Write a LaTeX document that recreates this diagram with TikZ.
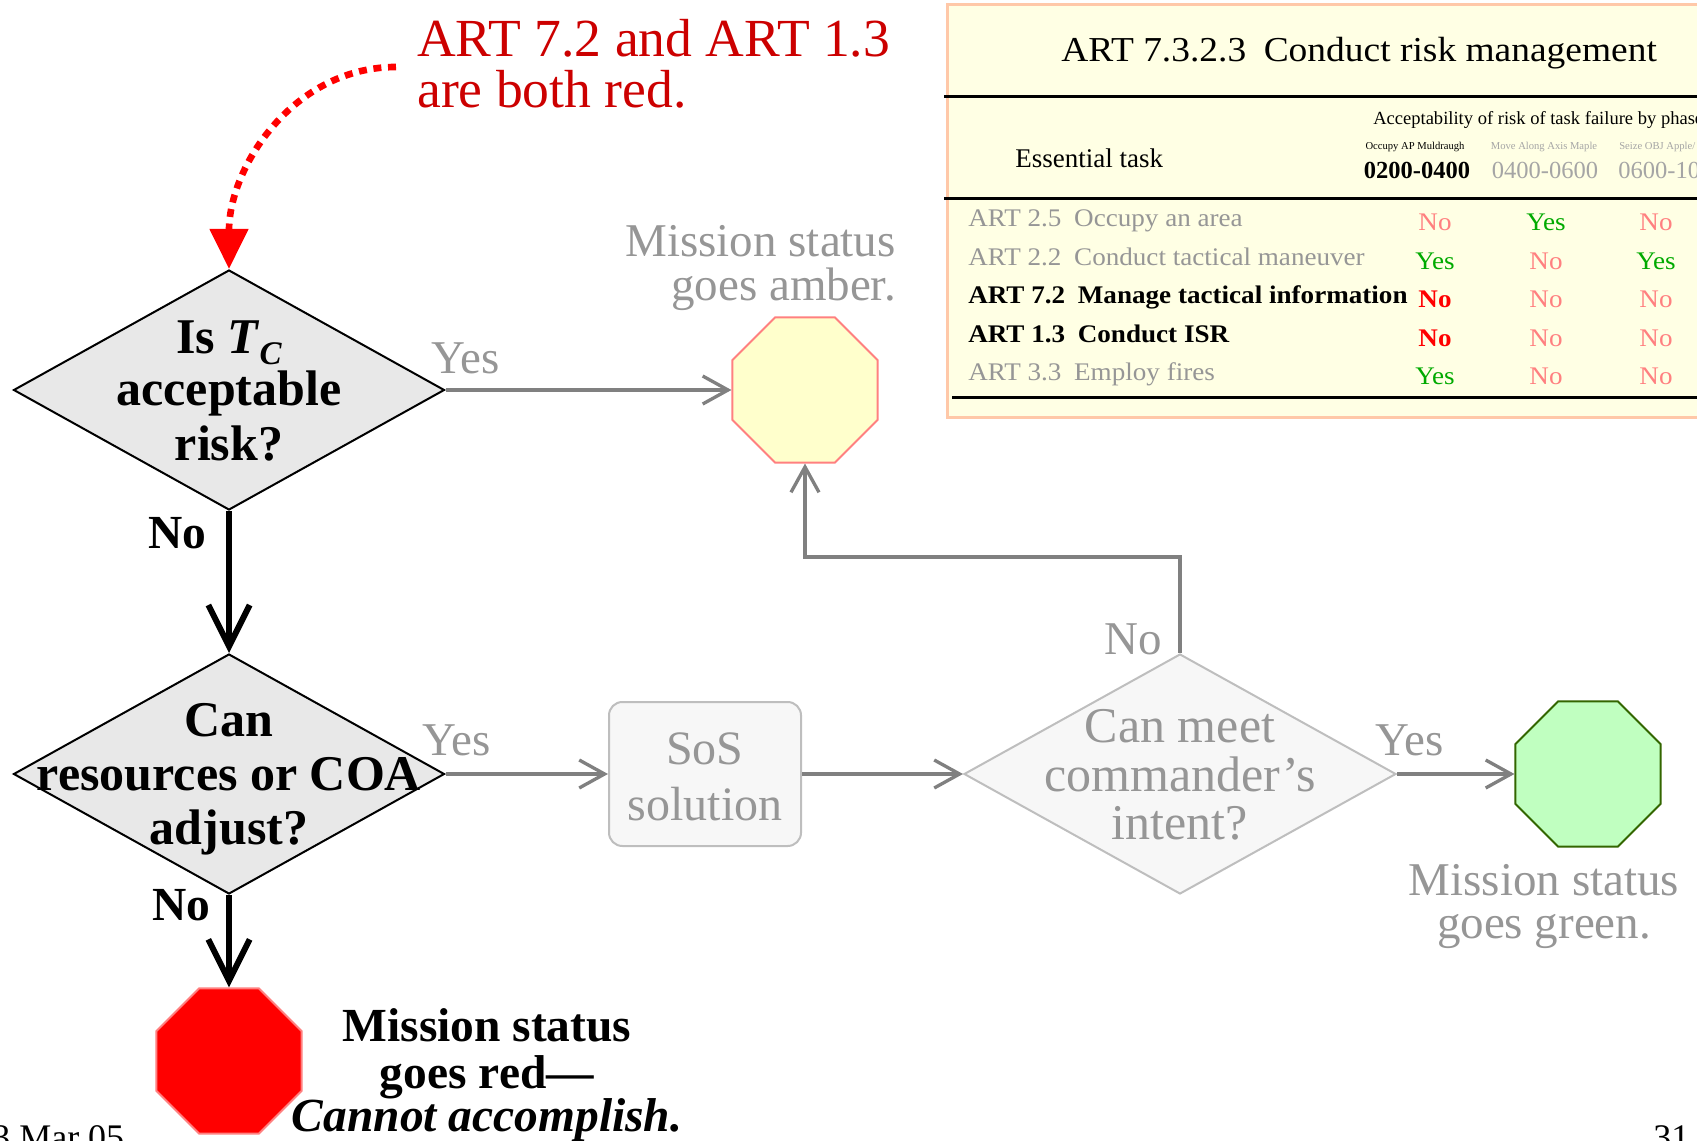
\documentclass[tikz,border=0pt]{standalone}
\usepackage{fontspec}
\setmainfont{Liberation Serif}
\newfontfamily\widefont[FakeStretch=1.07]{Liberation Serif}
\usetikzlibrary{arrows.meta,shapes.geometric}
\newcommand\setfs[1]{\fontsize{#1}{#1}\selectfont}

\definecolor{lblgray}{RGB}{150,150,150}
\definecolor{linegray}{RGB}{128,128,128}
\definecolor{decfill}{RGB}{232,232,232}
\definecolor{palefill}{RGB}{247,247,247}
\definecolor{paleedge}{RGB}{190,190,190}
\definecolor{amberfill}{RGB}{255,255,204}
\definecolor{amberedge}{RGB}{255,128,128}
\definecolor{greenfill}{RGB}{192,255,192}
\definecolor{greenedge}{RGB}{51,102,0}
\definecolor{stopred}{RGB}{255,0,0}
\definecolor{stopedge}{RGB}{255,128,128}
\definecolor{notered}{RGB}{204,0,0}
\definecolor{tabfill}{RGB}{255,255,228}
\definecolor{tabedge}{RGB}{255,200,168}
\definecolor{yesgreen}{RGB}{0,170,0}
\definecolor{nosalmon}{RGB}{255,128,128}
\definecolor{hdrgray}{RGB}{165,165,165}

\begin{document}
\begin{tikzpicture}[x=0.75pt,y=-0.75pt,
  decision/.style={diamond, draw=black, line width=1.5pt, fill=decfill, inner sep=0pt,
    minimum width=323.25pt, minimum height=180pt},
  stopsign/.style={regular polygon, regular polygon sides=8, minimum size=117.75pt,
    inner sep=0pt, line width=1.5pt},
  grayflow/.style={draw=linegray, line width=2.5pt, -{Straight Barb[length=19pt,width=21pt]}},
  blackflow/.style={draw=black, line width=4.5pt, -{Straight Barb[length=31pt,width=31pt]}},
  reddots/.style={draw=stopred, line width=5pt, dash pattern=on 6pt off 5pt,
    -{Triangle[length=30pt,width=28pt]}},
  note/.style={inner sep=0pt, anchor=base west, text=notered, font=\setfs{40.2pt}},
  dectext/.style={inner sep=0pt, anchor=base, font=\setfs{37.5pt}\bfseries},
  paletext/.style={inner sep=0pt, anchor=base, text=lblgray, font=\setfs{37.5pt}},
  lbl/.style={inner sep=0pt, text=lblgray, font=\setfs{35.25pt}},
  nolbl/.style={inner sep=0pt, anchor=base west, font=\setfs{35.6pt}\bfseries},
  redtext/.style={inner sep=0pt, anchor=base, font=\setfs{35.6pt}\bfseries},
  foot/.style={inner sep=0pt, anchor=base west, font=\setfs{27pt}},
  rowtxt/.style={inner sep=0pt, anchor=base west, font=\widefont\setfs{19pt}},
  val/.style={inner sep=0pt, anchor=base, font=\widefont\setfs{19pt}}
]
\useasboundingbox (0,0) rectangle (1697,1141);

% ---------- risk table ----------
\draw[tabedge, line width=2.25pt, fill=tabfill] (947,5) rectangle (1720,418);
\draw[line width=2.25pt] (944,97) -- (1720,97);
\draw[line width=2.25pt] (944,198.5) -- (1720,198.5);
\draw[line width=2.25pt] (952,398) -- (1720,398);

\node[inner sep=0pt, anchor=base west, font=\widefont\setfs{26.25pt}] (tabtitle) at (1061,62)
  {ART 7.3.2.3\hspace{0.5em}Conduct risk management};
\node[inner sep=0pt, anchor=base west, font=\setfs{13.9pt}] (phasehead) at (1373,125)
  {Acceptability of risk of task failure by phase};
\node[inner sep=0pt, anchor=base west, font=\setfs{20.25pt}] (taskhead) at (1015,168) {Essential task};

\node[inner sep=0pt, anchor=base, font=\setfs{7.95pt}] (ph1) at (1415,150) {Occupy AP Muldraugh};
\node[inner sep=0pt, anchor=base, font=\setfs{7.95pt}, text=hdrgray] (ph2) at (1544,150) {Move Along Axis Maple};
\node[inner sep=0pt, anchor=base west, font=\setfs{7.95pt}, text=hdrgray] (ph3) at (1619,150) {Seize OBJ Apple/};
\node[inner sep=0pt, anchor=base, font=\setfs{18.4pt}\bfseries] (t1) at (1417,179) {0200-0400};
\node[inner sep=0pt, anchor=base, font=\setfs{18.4pt}, text=hdrgray] (t2) at (1545,179) {0400-0600};
\node[inner sep=0pt, anchor=base west, font=\setfs{18.4pt}, text=hdrgray] (t3) at (1618,179) {0600-1000};

% rows: task names, then the three phase verdicts
\node[rowtxt, text=lblgray] (r1) at (968,227) {ART 2.5\hspace{0.5em}Occupy an area};
\node[val, text=nosalmon] (r1a) at (1435,231) {No};
\node[val, text=yesgreen] (r1b) at (1546,231) {Yes};
\node[val, text=nosalmon] (r1c) at (1656,231) {No};

\node[rowtxt, text=lblgray] (r2) at (968,265.5) {ART 2.2\hspace{0.5em}Conduct tactical maneuver};
\node[val, text=yesgreen] (r2a) at (1435,269.5) {Yes};
\node[val, text=nosalmon] (r2b) at (1546,269.5) {No};
\node[val, text=yesgreen] (r2c) at (1656,269.5) {Yes};

\node[rowtxt, font=\widefont\setfs{19pt}\bfseries] (r3) at (968,304) {ART 7.2\hspace{0.5em}Manage tactical information};
\node[val, text=stopred, font=\widefont\setfs{19pt}\bfseries] (r3a) at (1435,308) {No};
\node[val, text=nosalmon] (r3b) at (1546,308) {No};
\node[val, text=nosalmon] (r3c) at (1656,308) {No};

\node[rowtxt, font=\widefont\setfs{19pt}\bfseries] (r4) at (968,342.5) {ART 1.3\hspace{0.5em}Conduct ISR};
\node[val, text=stopred, font=\widefont\setfs{19pt}\bfseries] (r4a) at (1435,346.5) {No};
\node[val, text=nosalmon] (r4b) at (1546,346.5) {No};
\node[val, text=nosalmon] (r4c) at (1656,346.5) {No};

\node[rowtxt, text=lblgray] (r5) at (968,381) {ART 3.3\hspace{0.5em}Employ fires};
\node[val, text=yesgreen] (r5a) at (1435,385) {Yes};
\node[val, text=nosalmon] (r5b) at (1546,385) {No};
\node[val, text=nosalmon] (r5c) at (1656,385) {No};

% ---------- flowchart shapes ----------
\node[decision] (q1) at (229,390) {};
\node[decision] (q2) at (229,774) {};
\node[decision, draw=paleedge, fill=palefill, minimum width=324pt] (q3) at (1180,774) {};
\node[stopsign, draw=amberedge, fill=amberfill] (amber) at (805,390) {};
\node[stopsign, draw=greenedge, fill=greenfill] (green) at (1588,774) {};
\node[stopsign, draw=stopedge, fill=stopred] (stop) at (229,1061) {};
\node[draw=paleedge, fill=palefill, line width=1.5pt, rounded corners=10pt,
  minimum width=144pt, minimum height=108pt, inner sep=0pt] (sos) at (705,774) {};

% ---------- connectors ----------
\draw[grayflow] (q1.east) -- (amber.west);
\draw[grayflow] (q2.east) -- (sos.west);
\draw[grayflow] (sos.east) -- (q3.west);
\draw[grayflow] (q3.east) -- (green.west);
\coordinate (bend) at (805,557);
\draw[grayflow] (q3.north) |- (bend) -- (amber.south);
\draw[blackflow] (q1.south) -- (q2.north);
\draw[blackflow] (q2.south) -- (stop.north);
\coordinate (notetail) at (396,67);
\draw[reddots] (notetail) to[out=180,in=90] (q1.north);

% ---------- texts ----------
\node[note] (note1) at (417,57) {ART 7.2 and ART 1.3};
\node[note] (note2) at (417,108) {are both red.};

\node[dectext] (q1a) at (229,354) {Is \textit{T}\raisebox{-8pt}{\setfs{24.75pt}\textit{C}}};
\node[dectext] (q1b) at (229,406) {acceptable};
\node[dectext] (q1c) at (229,460) {risk?};

\node[dectext] (q2a) at (229,736) {Can};
\node[dectext] (q2b) at (229,790) {resources or COA};
\node[dectext] (q2c) at (229,844) {adjust?};

\node[paletext] (q3a) at (1180,742) {Can meet};
\node[paletext] (q3b) at (1180,791) {commander’s};
\node[paletext] (q3c) at (1180,839) {intent?};

\node[paletext, font=\setfs{36pt}] (sosa) at (705,764) {SoS};
\node[paletext, font=\setfs{36pt}] (sosb) at (705,820) {solution};

\node[lbl, anchor=base west] (yes1) at (431,374) {Yes};
\node[lbl, anchor=base west] (yes2) at (422,755) {Yes};
\node[lbl, anchor=base west] (yes3) at (1375,755) {Yes};
\node[lbl, anchor=base east] (no3) at (1162,654) {No};
\node[nolbl] (no1) at (148,548) {No};
\node[nolbl] (no2) at (152,920) {No};

\node[lbl, anchor=base east] (amb1) at (896,257) {Mission status};
\node[lbl, anchor=base east] (amb2) at (896,301) {goes amber.};
\node[lbl, anchor=base] (grn1) at (1544,895) {Mission status};
\node[lbl, anchor=base] (grn2) at (1544,938) {goes green.};

\node[redtext] (red1) at (487,1041) {Mission status};
\node[redtext] (red2) at (487,1088) {goes red—};
\node[redtext] (red3) at (487,1131) {\textit{Cannot accomplish.}};

\node[foot] (date) at (-8,1149) {3 Mar 05};
\node[foot] (page) at (1653,1149) {31};
\end{tikzpicture}
\end{document}
